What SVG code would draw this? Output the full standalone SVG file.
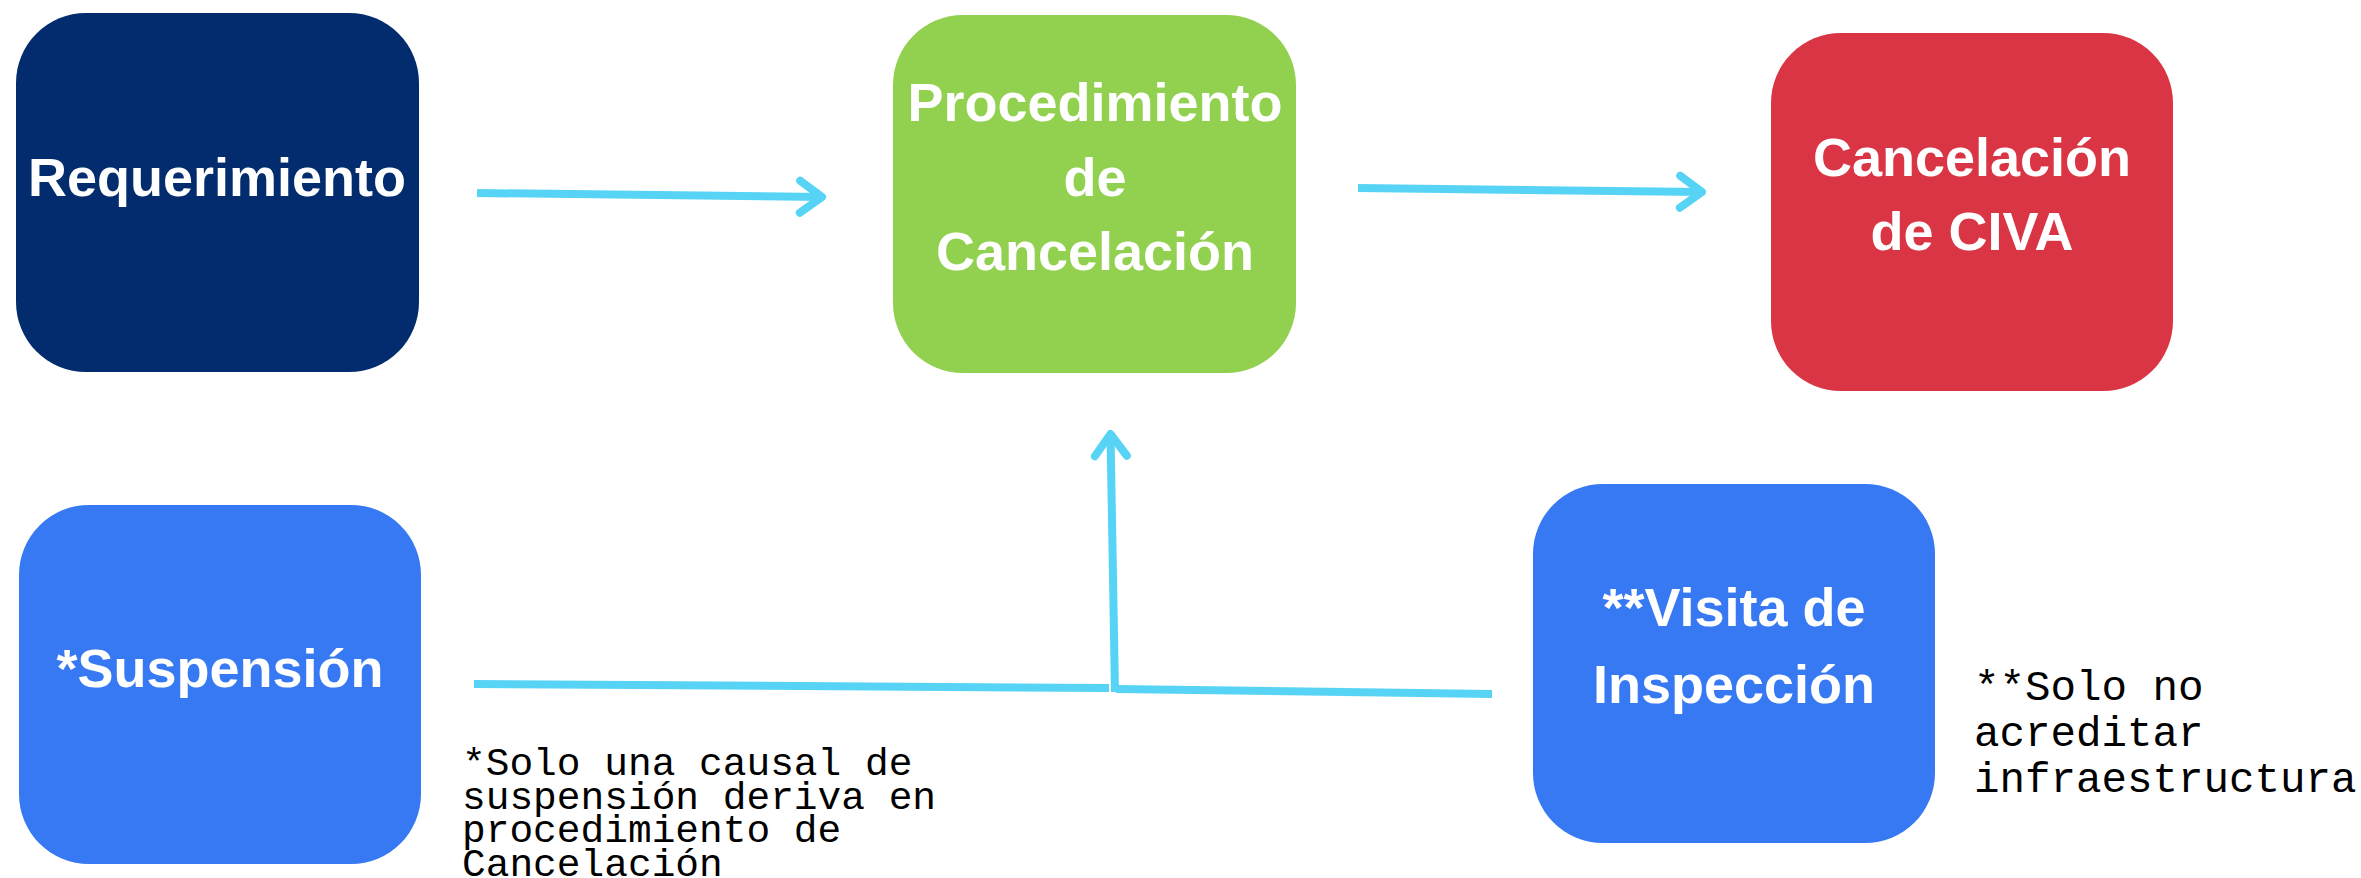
<svg xmlns="http://www.w3.org/2000/svg" width="2361" height="878" viewBox="0 0 2361 878">
  <defs>
    <style>
      .box { stroke: none; }
      .lbl { font-family: "Liberation Sans", Arial, sans-serif; font-weight: bold; font-size: 54px; fill: #ffffff; text-anchor: middle; }
      .note { font-family: "Liberation Mono", "Courier New", monospace; fill: #000000; }
      .conn { stroke: #57D4F5; stroke-width: 8; fill: none; }
    </style>
    <marker id="chev" viewBox="-32 -24 40 48" refX="0" refY="0" markerWidth="40" markerHeight="48" markerUnits="userSpaceOnUse" orient="auto" overflow="visible">
      <path d="M -22 -16 L 0 0 L -22 16" fill="none" stroke="#57D4F5" stroke-width="8" stroke-linecap="round" stroke-linejoin="round"/>
    </marker>
  </defs>
  <rect width="2361" height="878" fill="#ffffff"/>

  <g id="connectors">
    <line class="conn" x1="477" y1="193" x2="822" y2="197" marker-end="url(#chev)"/>
    <line class="conn" x1="1358" y1="188" x2="1702" y2="192" marker-end="url(#chev)"/>
    <line class="conn" x1="474" y1="684" x2="1109" y2="688"/>
    <line class="conn" x1="1116" y1="689" x2="1492" y2="694"/>
    <line class="conn" x1="1115" y1="692" x2="1110.5" y2="434" marker-end="url(#chev)"/>
  </g>

  <g id="requerimiento">
    <rect class="box" x="16" y="13" width="403" height="359" rx="70" ry="70" fill="#022C6D"/>
    <text class="lbl" x="217" y="196">Requerimiento</text>
  </g>

  <g id="procedimiento">
    <rect class="box" x="893" y="15" width="403" height="358" rx="70" ry="70" fill="#92D050"/>
    <text class="lbl" x="1095" y="121" font-size="53">Procedimiento</text>
    <text class="lbl" x="1095" y="196" font-size="53">de</text>
    <text class="lbl" x="1095" y="270" font-size="53">Cancelación</text>
  </g>

  <g id="cancelacion-civa">
    <rect class="box" x="1771" y="33" width="402" height="358" rx="70" ry="70" fill="#DA3544"/>
    <text class="lbl" x="1972" y="176">Cancelación</text>
    <text class="lbl" x="1972" y="250">de CIVA</text>
  </g>

  <g id="suspension">
    <rect class="box" x="19" y="505" width="402" height="359" rx="70" ry="70" fill="#3778F3"/>
    <text class="lbl" x="220" y="687">*Suspensión</text>
  </g>

  <g id="visita">
    <rect class="box" x="1533" y="484" width="402" height="359" rx="70" ry="70" fill="#3778F3"/>
    <text class="lbl" x="1734" y="626">**Visita de</text>
    <text class="lbl" x="1734" y="703">Inspección</text>
  </g>

  <g id="note-suspension">
    <text class="note" font-size="39.5" x="462" y="775">*Solo una causal de</text>
    <text class="note" font-size="39.5" x="462" y="809">suspensión deriva en</text>
    <text class="note" font-size="39.5" x="462" y="842">procedimiento de</text>
    <text class="note" font-size="39.5" x="462" y="876">Cancelación</text>
  </g>

  <g id="note-visita">
    <text class="note" font-size="42.5" x="1974" y="700">**Solo no</text>
    <text class="note" font-size="42.5" x="1974" y="746">acreditar</text>
    <text class="note" font-size="42.5" x="1974" y="792">infraestructura</text>
  </g>
</svg>
